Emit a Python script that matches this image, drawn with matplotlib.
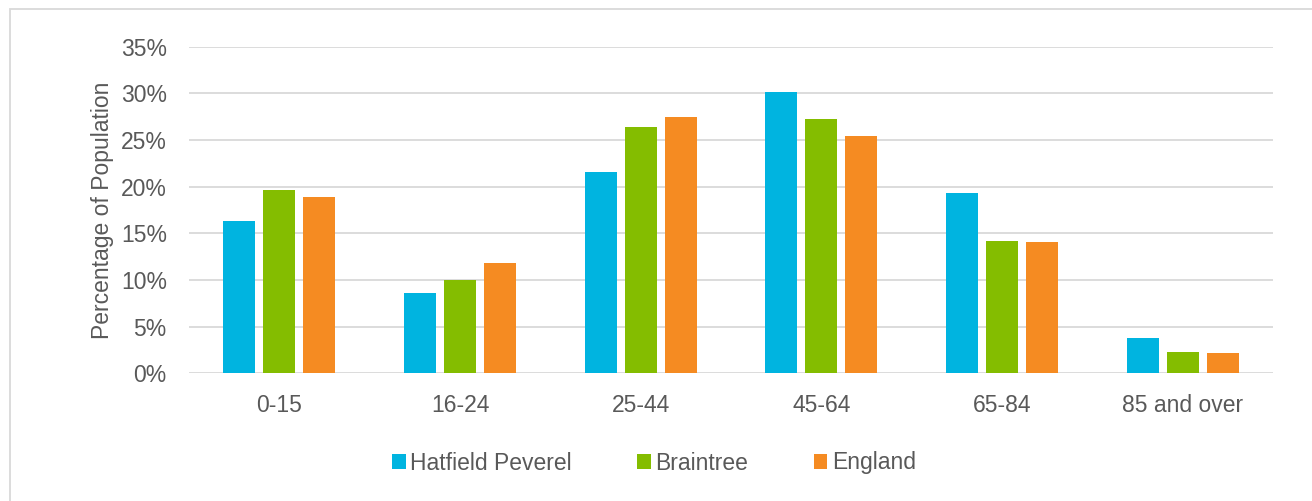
import matplotlib.pyplot as plt
from matplotlib.patches import Rectangle, Patch
from matplotlib.ticker import FuncFormatter
import numpy as np

plt.rcParams['font.family'] = ['Liberation Sans', 'DejaVu Sans']

grupos = ['0-15', '16-24', '25-44', '45-64', '65-84', '85 and over']
hatfield = [16.3, 8.6, 21.6, 30.1, 19.3, 3.75]
braintree = [19.6, 10.0, 26.4, 27.2, 14.2, 2.3]
england = [18.9, 11.8, 27.5, 25.4, 14.1, 2.2]

series = ['Hatfield Peverel', 'Braintree', 'England']
colores = ['#00B4E0', '#84BD00', '#F58B22']
gris = '#595959'
fs = 16.5

W, H = 1312, 501
fig = plt.figure(figsize=(W / 100, H / 100), dpi=100)
ax = fig.add_axes([189 / W, 1 - 373.3 / H, (1273 - 189) / W, (373.3 - 46.7) / H])

x = np.arange(len(grupos))
ancho = 32 / 180.7
paso = 40 / 180.7
for i, (datos, c) in enumerate(zip([hatfield, braintree, england], colores)):
    ax.bar(x + (i - 1) * paso, datos, ancho, color=c, zorder=3, label=series[i])

ax.set_xlim(-0.5, len(grupos) - 0.5)
ax.set_ylim(0, 35)
ax.set_yticks(range(0, 36, 5))
ax.yaxis.set_major_formatter(FuncFormatter(lambda v, p: f'{v:.0f}%'))
ax.set_xticks(x)
ax.set_xticklabels(grupos)

ax.grid(True, axis='y', color='#D9D9D9', linewidth=1.3, zorder=0)
for s in ax.spines.values():
    s.set_visible(False)
ax.tick_params(length=0, labelsize=fs, labelcolor=gris)
ax.tick_params(axis='y', pad=16)
ax.tick_params(axis='x', pad=15)

ax.set_ylabel('Percentage of Population', fontsize=fs, color=gris, labelpad=5)

handles = [Patch(facecolor=c, label=s) for s, c in zip(series, colores)]
fig.legend(handles=handles, loc='center', bbox_to_anchor=(654 / W, 1 - 463 / H),
           ncol=3, frameon=False, fontsize=fs, labelcolor=gris,
           handlelength=0.6, handleheight=0.6, handletextpad=0.2, columnspacing=2.85)

# borde del área del gráfico
fig.patches.append(Rectangle((10 / W, -0.1), 1.2, 1 - 9 / H + 0.1, transform=fig.transFigure,
                             fill=False, edgecolor='#D9D9D9', linewidth=1.3))

plt.savefig('out.png', dpi=100)
